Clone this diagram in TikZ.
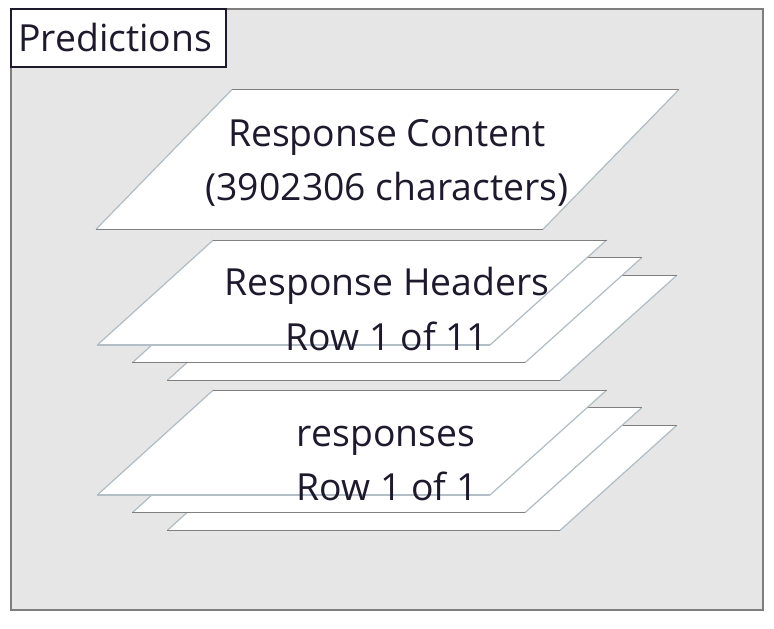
\documentclass[tikz,border=0pt]{standalone}
\usepackage{fontspec}
\setmainfont{Open Sans}
\definecolor{bgfill}{RGB}{230,230,230}
\definecolor{framecol}{RGB}{128,125,125}
\definecolor{ink}{RGB}{30,25,45}
\definecolor{slantcol}{RGB}{176,188,196}
\definecolor{edgecol}{RGB}{130,126,126}
\definecolor{frontbotcol}{RGB}{180,190,198}
\tikzset{
  lbl/.style={font=\fontsize{28}{34}\selectfont, text=ink, inner sep=0pt, anchor=base},
  slantedge/.style={draw=slantcol, line width=0.9pt},
  topedge/.style={draw=edgecol, line width=0.75pt},
  botedge/.style={draw=edgecol, line width=1.1pt},
  frontbot/.style={draw=frontbotcol, line width=1.9pt},
}
\newcommand{\stackplate}[3]{%
  \begin{scope}[shift={(#1,#2)}]
    \fill[white] (213.3,240) -- (606.7,240) -- (490,345) -- (97.3,345) -- cycle;
    \draw[slantedge] (213.3,240) -- (97.3,345) (606.7,240) -- (490,345);
    \draw[topedge] (213.3,240) -- (606.7,240);
    \draw[#3] (97.3,345) -- (490,345);
  \end{scope}}
\begin{document}
\begin{tikzpicture}[x=0.75pt,y=-0.75pt]
\useasboundingbox (0,0) rectangle (774,628);
% outer frame
\draw[draw=framecol, fill=bgfill, line width=1.5pt] (10.7,8.5) rectangle (763.3,610);
% title box
\draw[draw=ink, fill=white, line width=1.5pt] (10.7,8.5) rectangle (226,67);
\node[lbl, anchor=base west] (pred) at (18,51.7) {Predictions};
% top plate
\fill[white] (232,89.5) -- (679,89.5) -- (543,229.3) -- (96,229.3) -- cycle;
\draw[slantedge] (232,89.5) -- (96,229.3) (679,89.5) -- (543,229.3);
\draw[topedge] (232,89.5) -- (679,89.5);
\draw[botedge] (96,229.3) -- (543,229.3);
% middle stack
\stackplate{70}{35.4}{botedge}
\stackplate{35}{17.7}{botedge}
\stackplate{0}{0}{frontbot}
% bottom stack
\stackplate{70}{185.4}{botedge}
\stackplate{35}{167.7}{botedge}
\stackplate{0}{150}{frontbot}
% labels
\node[lbl] (rc1) at (387,146.7) {Response Content};
\node[lbl] (rc2) at (387,200) {(3902306 characters)};
\node[lbl] (rh1) at (387,295.7) {Response Headers};
\node[lbl] (rh2) at (387,350) {Row 1 of 11};
\node[lbl] (rs1) at (386,446) {responses};
\node[lbl] (rs2) at (387,500.5) {Row 1 of 1};
\end{tikzpicture}
\end{document}
